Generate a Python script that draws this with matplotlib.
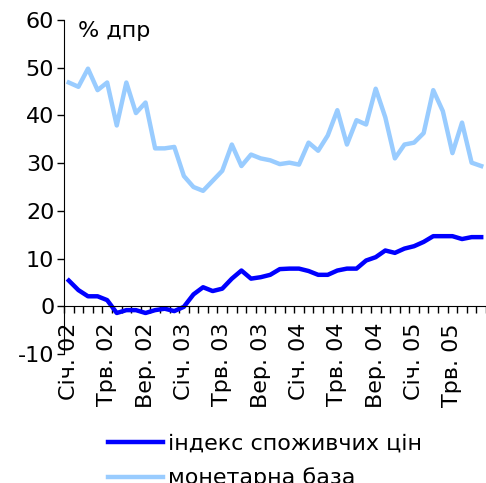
import numpy as np
import matplotlib
matplotlib.use("Agg")
import matplotlib.pyplot as plt

plt.rcParams["axes.unicode_minus"] = False

# monthly data, Jan 2002 - Aug 2005, % y/y
months = ["Січ. 02", "", "", "", "Трв. 02", "", "", "", "Вер. 02", "", "", "",
          "Січ. 03", "", "", "", "Трв. 03", "", "", "", "Вер. 03", "", "", "",
          "Січ. 04", "", "", "", "Трв. 04", "", "", "", "Вер. 04", "", "", "",
          "Січ. 05", "", "", "", "Трв. 05", "", "", ""]

cpi = [5.4, 3.4, 2.1, 2.1, 1.3, -1.4, -0.8, -0.8, -1.4, -0.8, -0.5, -1.0,
       -0.1, 2.5, 4.0, 3.2, 3.7, 5.8, 7.5, 5.8, 6.1, 6.6, 7.8, 7.9,
       7.9, 7.4, 6.6, 6.6, 7.5, 7.9, 7.9, 9.6, 10.3, 11.7, 11.2, 12.1,
       12.6, 13.5, 14.7, 14.7, 14.7, 14.1, 14.5, 14.5]

base = [46.9, 46.0, 49.8, 45.3, 46.9, 37.9, 46.9, 40.5, 42.7, 33.1, 33.1, 33.4,
        27.3, 25.0, 24.2, 26.3, 28.4, 33.9, 29.4, 31.8, 31.0, 30.6, 29.8, 30.1,
        29.7, 34.3, 32.6, 35.8, 41.1, 33.9, 39.0, 38.1, 45.6, 39.6, 31.0, 33.9,
        34.3, 36.3, 45.3, 40.9, 32.1, 38.5, 30.1, 29.4]

x = np.arange(len(months))

fig = plt.figure(figsize=(4.86, 4.83), dpi=100)
ax = fig.add_axes([0.1317, 0.267, 0.8683, 0.6916])

l1, = ax.plot(x, cpi, color="#0000FF", lw=3.2, solid_joinstyle="round",
              label="індекс споживчих цін")
l2, = ax.plot(x, base, color="#99CCFF", lw=3.2, solid_joinstyle="round",
              label="монетарна база")

ax.set_xlim(-0.5, len(months) - 0.5)
ax.set_ylim(-10, 60)
ax.set_yticks(range(-10, 61, 10))
ax.tick_params(axis="y", labelsize=16, length=5, width=1, direction="out", pad=2)

# category axis crossing at zero
ax.spines["top"].set_visible(False)
ax.spines["right"].set_visible(False)
ax.spines["bottom"].set_position(("data", 0))
ax.set_xticks(x[::4])
ax.set_xticklabels([m for m in months if m], rotation=90, fontsize=16)
ax.set_xticks(np.arange(-0.5, len(months), 1), minor=True)
ax.tick_params(axis="x", which="major", length=0, pad=12)
ax.tick_params(axis="x", which="minor", length=5, width=1, direction="out")
for lab in ax.get_xticklabels():
    lab.set_va("top")

ax.text(0.033, 0.967, "% дпр", transform=ax.transAxes, fontsize=16,
        ha="left", va="center")

fig.legend(handles=[l1, l2], loc="upper left", bbox_to_anchor=(0.222, 0.102),
           frameon=False, fontsize=16, handlelength=2.5, handletextpad=0.2,
           labelspacing=0.62, borderpad=0, borderaxespad=0)

fig.savefig("out.png", dpi=100)
